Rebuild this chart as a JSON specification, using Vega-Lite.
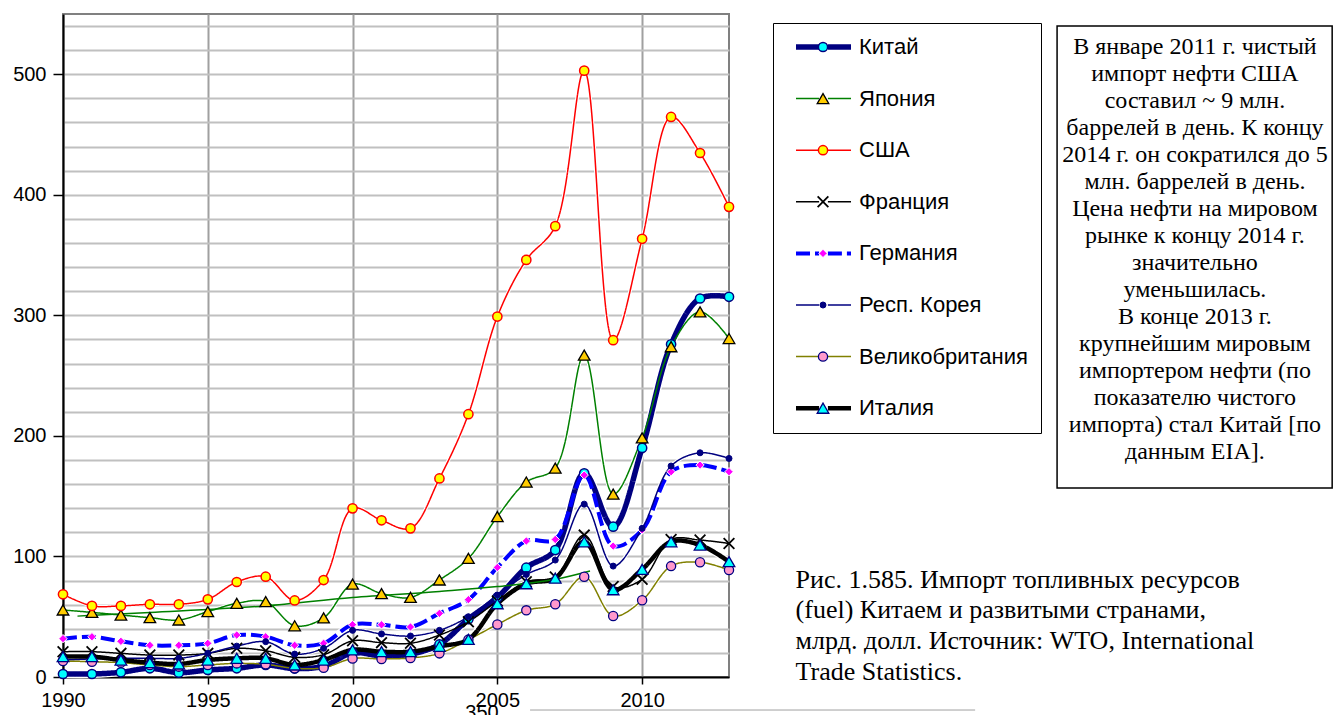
{
  "$schema": "https://vega.github.io/schema/vega-lite/v6.json",
  "width": 666,
  "height": 663,
  "autosize": {"type": "none"},
  "padding": {"left": 63, "top": 14, "right": 606, "bottom": 38},
  "background": "white",
  "config": {
    "font": "Liberation Sans",
    "view": {"stroke": "#808080", "strokeWidth": 2},
    "axis": {"labelOverlap": false, "labelFlush": false, "labelFontSize": 20, "labelColor": "black", "domainColor": "black", "domainWidth": 2, "tickColor": "black", "tickWidth": 1.5, "gridWidth": 2, "title": null}
  },
  "datasets": {
    "imports": [
      {"country": "Китай", "year": 1990, "value": 2.5}, {"country": "Китай", "year": 1991, "value": 2.5}, {"country": "Китай", "year": 1992, "value": 3.9}, {"country": "Китай", "year": 1993, "value": 7.2}, {"country": "Китай", "year": 1994, "value": 3.6}, {"country": "Китай", "year": 1995, "value": 5.8}, {"country": "Китай", "year": 1996, "value": 7.2}, {"country": "Китай", "year": 1997, "value": 10}, {"country": "Китай", "year": 1998, "value": 7}, {"country": "Китай", "year": 1999, "value": 9}, {"country": "Китай", "year": 2000, "value": 20}, {"country": "Китай", "year": 2001, "value": 17.5}, {"country": "Китай", "year": 2002, "value": 19}, {"country": "Китай", "year": 2003, "value": 27}, {"country": "Китай", "year": 2004, "value": 48}, {"country": "Китай", "year": 2005, "value": 66}, {"country": "Китай", "year": 2006, "value": 90.7}, {"country": "Китай", "year": 2007, "value": 105.3}, {"country": "Китай", "year": 2008, "value": 169}, {"country": "Китай", "year": 2009, "value": 124.7}, {"country": "Китай", "year": 2010, "value": 190}, {"country": "Китай", "year": 2011, "value": 276}, {"country": "Китай", "year": 2012, "value": 314}, {"country": "Китай", "year": 2013, "value": 315.4},
      {"country": "Япония", "year": 1990, "value": 55.6}, {"country": "Япония", "year": 1991, "value": 53.6}, {"country": "Япония", "year": 1992, "value": 51.4}, {"country": "Япония", "year": 1993, "value": 49.2}, {"country": "Япония", "year": 1994, "value": 47.3}, {"country": "Япония", "year": 1995, "value": 54.2}, {"country": "Япония", "year": 1996, "value": 61.1}, {"country": "Япония", "year": 1997, "value": 62.5}, {"country": "Япония", "year": 1998, "value": 42.5}, {"country": "Япония", "year": 1999, "value": 49}, {"country": "Япония", "year": 2000, "value": 77}, {"country": "Япония", "year": 2001, "value": 69.2}, {"country": "Япония", "year": 2002, "value": 66}, {"country": "Япония", "year": 2003, "value": 80.5}, {"country": "Япония", "year": 2004, "value": 98.4}, {"country": "Япония", "year": 2005, "value": 133}, {"country": "Япония", "year": 2006, "value": 161.7}, {"country": "Япония", "year": 2007, "value": 173.3}, {"country": "Япония", "year": 2008, "value": 267}, {"country": "Япония", "year": 2009, "value": 151.7}, {"country": "Япония", "year": 2010, "value": 198.4}, {"country": "Япония", "year": 2011, "value": 274}, {"country": "Япония", "year": 2012, "value": 302.9}, {"country": "Япония", "year": 2013, "value": 280.8},
      {"country": "США", "year": 1990, "value": 68.6}, {"country": "США", "year": 1991, "value": 59}, {"country": "США", "year": 1992, "value": 59}, {"country": "США", "year": 1993, "value": 60.3}, {"country": "США", "year": 1994, "value": 60.3}, {"country": "США", "year": 1995, "value": 64.4}, {"country": "США", "year": 1996, "value": 78.8}, {"country": "США", "year": 1997, "value": 83.2}, {"country": "США", "year": 1998, "value": 63.5}, {"country": "США", "year": 1999, "value": 80.4}, {"country": "США", "year": 2000, "value": 139.9}, {"country": "США", "year": 2001, "value": 130}, {"country": "США", "year": 2002, "value": 123.3}, {"country": "США", "year": 2003, "value": 164.7}, {"country": "США", "year": 2004, "value": 218}, {"country": "США", "year": 2005, "value": 299}, {"country": "США", "year": 2006, "value": 346}, {"country": "США", "year": 2007, "value": 374}, {"country": "США", "year": 2008, "value": 503}, {"country": "США", "year": 2009, "value": 279.4}, {"country": "США", "year": 2010, "value": 363.5}, {"country": "США", "year": 2011, "value": 464.6}, {"country": "США", "year": 2012, "value": 434.7}, {"country": "США", "year": 2013, "value": 390},
      {"country": "Франция", "year": 1990, "value": 21}, {"country": "Франция", "year": 1991, "value": 21}, {"country": "Франция", "year": 1992, "value": 19.6}, {"country": "Франция", "year": 1993, "value": 18.2}, {"country": "Франция", "year": 1994, "value": 18.2}, {"country": "Франция", "year": 1995, "value": 19.6}, {"country": "Франция", "year": 1996, "value": 23.8}, {"country": "Франция", "year": 1997, "value": 21.8}, {"country": "Франция", "year": 1998, "value": 16.3}, {"country": "Франция", "year": 1999, "value": 18.5}, {"country": "Франция", "year": 2000, "value": 30}, {"country": "Франция", "year": 2001, "value": 28.5}, {"country": "Франция", "year": 2002, "value": 28}, {"country": "Франция", "year": 2003, "value": 34.8}, {"country": "Франция", "year": 2004, "value": 45.9}, {"country": "Франция", "year": 2005, "value": 63}, {"country": "Франция", "year": 2006, "value": 79}, {"country": "Франция", "year": 2007, "value": 83}, {"country": "Франция", "year": 2008, "value": 117.7}, {"country": "Франция", "year": 2009, "value": 75}, {"country": "Франция", "year": 2010, "value": 81}, {"country": "Франция", "year": 2011, "value": 114}, {"country": "Франция", "year": 2012, "value": 113.6}, {"country": "Франция", "year": 2013, "value": 110.8},
      {"country": "Германия", "year": 1990, "value": 31.8}, {"country": "Германия", "year": 1991, "value": 33.4}, {"country": "Германия", "year": 1992, "value": 29.6}, {"country": "Германия", "year": 1993, "value": 26.3}, {"country": "Германия", "year": 1994, "value": 26.3}, {"country": "Германия", "year": 1995, "value": 27.9}, {"country": "Германия", "year": 1996, "value": 34.8}, {"country": "Германия", "year": 1997, "value": 33.4}, {"country": "Германия", "year": 1998, "value": 26.3}, {"country": "Германия", "year": 1999, "value": 28}, {"country": "Германия", "year": 2000, "value": 43.4}, {"country": "Германия", "year": 2001, "value": 43.3}, {"country": "Германия", "year": 2002, "value": 41.5}, {"country": "Германия", "year": 2003, "value": 52.8}, {"country": "Германия", "year": 2004, "value": 64.2}, {"country": "Германия", "year": 2005, "value": 90.9}, {"country": "Германия", "year": 2006, "value": 112.8}, {"country": "Германия", "year": 2007, "value": 114.1}, {"country": "Германия", "year": 2008, "value": 167.5}, {"country": "Германия", "year": 2009, "value": 108.6}, {"country": "Германия", "year": 2010, "value": 122}, {"country": "Германия", "year": 2011, "value": 170.3}, {"country": "Германия", "year": 2012, "value": 175.8}, {"country": "Германия", "year": 2013, "value": 170.3},
      {"country": "Респ. Корея", "year": 1990, "value": 14}, {"country": "Респ. Корея", "year": 1991, "value": 15}, {"country": "Респ. Корея", "year": 1992, "value": 15.5}, {"country": "Респ. Корея", "year": 1993, "value": 15.5}, {"country": "Респ. Корея", "year": 1994, "value": 15.5}, {"country": "Респ. Корея", "year": 1995, "value": 19.6}, {"country": "Респ. Корея", "year": 1996, "value": 25.6}, {"country": "Респ. Корея", "year": 1997, "value": 29.3}, {"country": "Респ. Корея", "year": 1998, "value": 19}, {"country": "Респ. Корея", "year": 1999, "value": 23.8}, {"country": "Респ. Корея", "year": 2000, "value": 38.7}, {"country": "Респ. Корея", "year": 2001, "value": 35.7}, {"country": "Респ. Корея", "year": 2002, "value": 34}, {"country": "Респ. Корея", "year": 2003, "value": 38.7}, {"country": "Респ. Корея", "year": 2004, "value": 50}, {"country": "Респ. Корея", "year": 2005, "value": 68}, {"country": "Респ. Корея", "year": 2006, "value": 85}, {"country": "Респ. Корея", "year": 2007, "value": 97}, {"country": "Респ. Корея", "year": 2008, "value": 143.4}, {"country": "Респ. Корея", "year": 2009, "value": 92}, {"country": "Респ. Корея", "year": 2010, "value": 123.3}, {"country": "Респ. Корея", "year": 2011, "value": 175}, {"country": "Респ. Корея", "year": 2012, "value": 186}, {"country": "Респ. Корея", "year": 2013, "value": 181.3},
      {"country": "Великобритания", "year": 1990, "value": 13.3}, {"country": "Великобритания", "year": 1991, "value": 12.7}, {"country": "Великобритания", "year": 1992, "value": 11.9}, {"country": "Великобритания", "year": 1993, "value": 10}, {"country": "Великобритания", "year": 1994, "value": 8.6}, {"country": "Великобритания", "year": 1995, "value": 10}, {"country": "Великобритания", "year": 1996, "value": 11.3}, {"country": "Великобритания", "year": 1997, "value": 10.5}, {"country": "Великобритания", "year": 1998, "value": 7.2}, {"country": "Великобритания", "year": 1999, "value": 7.7}, {"country": "Великобритания", "year": 2000, "value": 15.3}, {"country": "Великобритания", "year": 2001, "value": 15}, {"country": "Великобритания", "year": 2002, "value": 15.8}, {"country": "Великобритания", "year": 2003, "value": 19.6}, {"country": "Великобритания", "year": 2004, "value": 31}, {"country": "Великобритания", "year": 2005, "value": 43.6}, {"country": "Великобритания", "year": 2006, "value": 55.3}, {"country": "Великобритания", "year": 2007, "value": 60.4}, {"country": "Великобритания", "year": 2008, "value": 83.2}, {"country": "Великобритания", "year": 2009, "value": 50.6}, {"country": "Великобритания", "year": 2010, "value": 63.6}, {"country": "Великобритания", "year": 2011, "value": 92}, {"country": "Великобритания", "year": 2012, "value": 95.2}, {"country": "Великобритания", "year": 2013, "value": 88.8},
      {"country": "Италия", "year": 1990, "value": 16.9}, {"country": "Италия", "year": 1991, "value": 16.9}, {"country": "Италия", "year": 1992, "value": 14.1}, {"country": "Италия", "year": 1993, "value": 11.9}, {"country": "Италия", "year": 1994, "value": 10.8}, {"country": "Италия", "year": 1995, "value": 14.1}, {"country": "Италия", "year": 1996, "value": 15.5}, {"country": "Италия", "year": 1997, "value": 15.5}, {"country": "Италия", "year": 1998, "value": 10}, {"country": "Италия", "year": 1999, "value": 14.1}, {"country": "Италия", "year": 2000, "value": 22.5}, {"country": "Италия", "year": 2001, "value": 21}, {"country": "Италия", "year": 2002, "value": 21}, {"country": "Италия", "year": 2003, "value": 25.5}, {"country": "Италия", "year": 2004, "value": 31.2}, {"country": "Италия", "year": 2005, "value": 60.8}, {"country": "Италия", "year": 2006, "value": 77.4}, {"country": "Италия", "year": 2007, "value": 82}, {"country": "Италия", "year": 2008, "value": 112.2}, {"country": "Италия", "year": 2009, "value": 72.4}, {"country": "Италия", "year": 2010, "value": 89.3}, {"country": "Италия", "year": 2011, "value": 112.2}, {"country": "Италия", "year": 2012, "value": 109.5}, {"country": "Италия", "year": 2013, "value": 95.7}
    ],
    "trend": [
      {"year": 1990.5, "value": 50.5}, {"year": 1993, "value": 53.5}, {"year": 1997, "value": 59}, {"year": 2000, "value": 66}, {"year": 2003, "value": 71}, {"year": 2005, "value": 75}, {"year": 2007, "value": 81}, {"year": 2008.2, "value": 88}
    ],
    "note": [
      {"text": "В январе 2011 г. чистый\nимпорт нефти США\nсоставил ~ 9 млн.\nбаррелей в день. К концу\n2014 г. он сократился до 5\nмлн. баррелей в день.\nЦена нефти на мировом\nрынке к концу 2014 г.\nзначительно\nуменьшилась.\nВ конце 2013 г.\nкрупнейшим мировым\nимпортером нефти (по\nпоказателю чистого\nимпорта) стал Китай [по\nданным EIA]."}
    ],
    "caption": [
      {"text": "Рис. 1.585. Импорт топливных ресурсов\n(fuel) Китаем и развитыми странами,\nмлрд. долл. Источник: WTO, International\nTrade Statistics."}
    ],
    "fragment": [
      {"text": "350"}
    ]
  },
  "layer": [
    {
      "data": {"name": "imports"},
      "mark": {"type": "line", "interpolate": "catmull-rom", "stroke": "white", "strokeCap": "round"},
      "encoding": {
        "x": {"field": "year", "type": "quantitative", "scale": {"domain": [1990, 2013], "nice": false, "zero": false},
          "axis": {"values": [1990, 1995, 2000, 2005, 2010], "format": "d", "grid": true, "gridColor": "#A0A0A0", "tickSize": 7, "labelPadding": 6}},
        "y": {"field": "value", "type": "quantitative", "scale": {"domain": [0, 550], "nice": false},
          "axis": {"orient": "left", "values": [20, 40, 60, 80, 100, 120, 140, 160, 180, 200, 220, 240, 260, 280, 300, 320, 340, 360, 380, 400, 420, 440, 460, 480, 500, 520, 540],
            "grid": true, "gridColor": "#C0C0C0", "labels": false, "ticks": false, "domain": false}},
        "detail": {"field": "country", "type": "nominal"},
        "strokeWidth": {"field": "country", "type": "nominal", "legend": null,
          "scale": {"type": "ordinal", "domain": ["Китай", "Япония", "США", "Франция", "Германия", "Респ. Корея", "Великобритания", "Италия"], "range": [8, 3.5, 3.5, 3.5, 6.5, 3.5, 3.5, 7]}}
      }
    },
    {
      "data": {"name": "imports"},
      "mark": {"type": "line", "interpolate": "catmull-rom"},
      "encoding": {
        "x": {"field": "year", "type": "quantitative"},
        "y": {"field": "value", "type": "quantitative",
          "axis": {"orient": "left", "values": [0, 100, 200, 300, 400, 500], "grid": false, "tickSize": 10, "labelPadding": 7}},
        "stroke": {"field": "country", "type": "nominal",
          "scale": {"domain": ["Китай", "Япония", "США", "Франция", "Германия", "Респ. Корея", "Великобритания", "Италия"], "range": ["#000080", "#008000", "#FF0000", "#000000", "#0000FF", "#000080", "#808000", "#000000"]},
          "legend": {"orient": "none", "legendX": 710, "legendY": 9, "title": null, "padding": 13, "strokeColor": "black",
            "symbolType": "M-1,0H-0.16M0.16,0H1", "symbolSize": 3025, "symbolOffset": 7, "labelOffset": 5,
            "labelFontSize": 22, "labelColor": "black", "labelLimit": 400, "rowPadding": 29.6, "clipHeight": 22}},
        "strokeWidth": {"field": "country", "type": "nominal",
          "scale": {"type": "ordinal", "domain": ["Китай", "Япония", "США", "Франция", "Германия", "Респ. Корея", "Великобритания", "Италия"], "range": [5.5, 1.5, 1.5, 1.5, 4, 1.5, 1.5, 4.5]},
          "legend": {"orient": "none", "legendX": 710, "legendY": 9, "title": null, "padding": 13, "strokeColor": "black",
            "symbolType": "M-1,0H-0.16M0.16,0H1", "symbolSize": 3025, "symbolOffset": 7, "labelOffset": 5,
            "labelFontSize": 22, "labelColor": "black", "labelLimit": 400, "rowPadding": 29.6, "clipHeight": 22}},
        "strokeDash": {"field": "country", "type": "nominal",
          "scale": {"domain": ["Китай", "Япония", "США", "Франция", "Германия", "Респ. Корея", "Великобритания", "Италия"], "range": [[1, 0], [1, 0], [1, 0], [1, 0], [14, 5], [1, 0], [1, 0], [1, 0]]},
          "legend": {"orient": "none", "legendX": 710, "legendY": 9, "title": null, "padding": 13, "strokeColor": "black",
            "symbolType": "M-1,0H-0.16M0.16,0H1", "symbolSize": 3025, "symbolOffset": 7, "labelOffset": 5,
            "labelFontSize": 22, "labelColor": "black", "labelLimit": 400, "rowPadding": 29.6, "clipHeight": 22}}
      }
    },
    {
      "data": {"name": "trend"},
      "mark": {"type": "line", "interpolate": "monotone", "stroke": "#008000", "strokeWidth": 1.5},
      "encoding": {
        "x": {"field": "year", "type": "quantitative"},
        "y": {"field": "value", "type": "quantitative", "axis": null}
      }
    },
    {
      "data": {"name": "imports"},
      "mark": {"type": "point", "filled": true, "opacity": 1},
      "encoding": {
        "x": {"field": "year", "type": "quantitative"},
        "y": {"field": "value", "type": "quantitative", "axis": null},
        "shape": {"field": "country", "type": "nominal",
          "scale": {"domain": ["Китай", "Япония", "США", "Франция", "Германия", "Респ. Корея", "Великобритания", "Италия"], "range": ["circle", "triangle-up", "circle", "M-1,-1L1,1M-1,1L1,-1", "diamond", "circle", "circle", "triangle-up"]},
          "legend": {"orient": "none", "legendX": 710, "legendY": 9, "title": null, "padding": 13, "symbolOffset": 26, "labelOffset": 5,
            "labelFontSize": 22, "labelExpr": "''", "labelLimit": 400, "rowPadding": 29.6, "clipHeight": 22, "zindex": 2}},
        "fill": {"field": "country", "type": "nominal",
          "scale": {"domain": ["Китай", "Япония", "США", "Франция", "Германия", "Респ. Корея", "Великобритания", "Италия"], "range": ["#00FFFF", "#FFCC00", "#FFFF00", "transparent", "#FF00FF", "#000080", "#FF99CC", "#00FFFF"]},
          "legend": {"orient": "none", "legendX": 710, "legendY": 9, "title": null, "padding": 13, "symbolOffset": 26, "labelOffset": 5,
            "labelFontSize": 22, "labelExpr": "''", "labelLimit": 400, "rowPadding": 29.6, "clipHeight": 22, "zindex": 2}},
        "stroke": {"field": "country", "type": "nominal",
          "scale": {"domain": ["Китай", "Япония", "США", "Франция", "Германия", "Респ. Корея", "Великобритания", "Италия"], "range": ["#000080", "#000000", "#FF0000", "#000000", "#FFFFFF", "#000080", "#000080", "#000080"]},
          "legend": {"orient": "none", "legendX": 710, "legendY": 9, "title": null, "padding": 13, "symbolOffset": 26, "labelOffset": 5,
            "labelFontSize": 22, "labelExpr": "''", "labelLimit": 400, "rowPadding": 29.6, "clipHeight": 22, "zindex": 2}},
        "size": {"field": "country", "type": "nominal",
          "scale": {"type": "ordinal", "domain": ["Китай", "Япония", "США", "Франция", "Германия", "Респ. Корея", "Великобритания", "Италия"], "range": [85, 135, 85, 115, 70, 36, 85, 135]},
          "legend": {"orient": "none", "legendX": 710, "legendY": 9, "title": null, "padding": 13, "symbolOffset": 26, "labelOffset": 5,
            "labelFontSize": 22, "labelExpr": "''", "labelLimit": 400, "rowPadding": 29.6, "clipHeight": 22, "zindex": 2}},
        "strokeWidth": {"field": "country", "type": "nominal",
          "scale": {"type": "ordinal", "domain": ["Китай", "Япония", "США", "Франция", "Германия", "Респ. Корея", "Великобритания", "Италия"], "range": [1.5, 1.3, 1.5, 1.8, 1, 1, 1.3, 1.3]},
          "legend": {"orient": "none", "legendX": 710, "legendY": 9, "title": null, "padding": 13, "symbolOffset": 26, "labelOffset": 5,
            "labelFontSize": 22, "labelExpr": "''", "labelLimit": 400, "rowPadding": 29.6, "clipHeight": 22, "zindex": 2}}
      }
    },
    {
      "data": {"name": "note"},
      "mark": {"type": "rect", "fill": "transparent", "stroke": "black", "strokeWidth": 1.5},
      "encoding": {
        "x": {"datum": 2024.33, "type": "quantitative"},
        "x2": {"datum": 2033.83},
        "y": {"datum": 540, "type": "quantitative", "axis": null},
        "y2": {"datum": 156.8}
      }
    },
    {
      "data": {"name": "note"},
      "mark": {"type": "text", "font": "Liberation Serif", "fontSize": 24, "lineHeight": 27, "lineBreak": "\n", "align": "center", "baseline": "top", "color": "black"},
      "encoding": {
        "x": {"datum": 2029.09, "type": "quantitative"},
        "y": {"datum": 532.5, "type": "quantitative", "axis": null},
        "text": {"field": "text", "type": "nominal"}
      }
    },
    {
      "data": {"name": "caption"},
      "mark": {"type": "text", "font": "Liberation Serif", "fontSize": 26, "lineHeight": 30.7, "lineBreak": "\n", "align": "left", "baseline": "top", "color": "black"},
      "encoding": {
        "x": {"datum": 2015.3, "type": "quantitative"},
        "y": {"datum": 91.5, "type": "quantitative", "axis": null},
        "text": {"field": "text", "type": "nominal"}
      }
    },
    {
      "data": {"name": "fragment"},
      "mark": {"type": "text", "fontSize": 20, "align": "center", "baseline": "top", "color": "black"},
      "encoding": {
        "x": {"datum": 2004.47, "type": "quantitative"},
        "y": {"datum": -21.6, "type": "quantitative", "axis": null},
        "text": {"field": "text", "type": "nominal"}
      }
    },
    {
      "data": {"name": "fragment"},
      "mark": {"type": "rule", "stroke": "#A0A0A0", "strokeWidth": 1},
      "encoding": {
        "x": {"datum": 2006.13, "type": "quantitative"},
        "x2": {"datum": 2021.5},
        "y": {"datum": -27.4, "type": "quantitative", "axis": null}
      }
    }
  ],
  "resolve": {
    "axis": {"y": "independent"},
    "scale": {"stroke": "independent", "strokeWidth": "independent", "strokeDash": "independent", "shape": "independent", "fill": "independent", "size": "independent"},
    "legend": {"stroke": "independent", "strokeWidth": "independent", "strokeDash": "independent", "shape": "independent", "fill": "independent", "size": "independent"}
  }
}
